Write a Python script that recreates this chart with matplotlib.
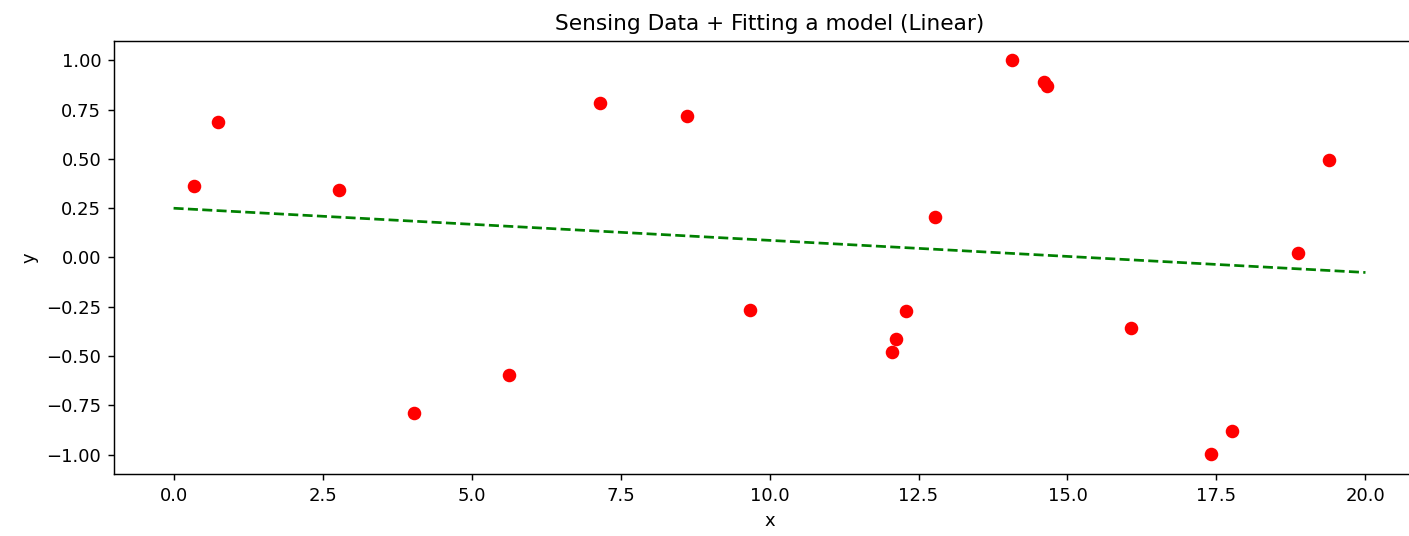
import numpy as np
import matplotlib
matplotlib.use('Agg')
import matplotlib.pyplot as plt

# sensed points
x_data = [0.35, 0.74, 2.77, 4.03, 5.63, 7.16, 8.61, 9.68, 12.05, 12.12,
          12.29, 12.77, 14.07, 14.61, 14.66, 16.07, 17.41, 17.76, 18.87, 19.38]
y_data = [0.362, 0.690, 0.342, -0.787, -0.595, 0.782, 0.720, -0.266, -0.478, -0.413,
          -0.271, 0.205, 1.000, 0.889, 0.868, -0.357, -0.997, -0.880, 0.023, 0.494]

# fitted linear model, endpoints
fit_x = [0.0, 20.0]
fit_y = [0.250, -0.076]

DPI = 130
fig = plt.figure(figsize=(1409 / DPI, 536 / DPI), dpi=DPI)
ax = fig.add_axes([0.0809, 0.1157, 0.9305, 0.8078])

ax.plot(x_data, y_data, 'o', color='red', markersize=6.5)
ax.plot(fit_x, fit_y, '--', color='green')

ax.set_xlim(-1.0, 21.0)
ax.set_ylim(-1.0985, 1.0985)
ax.set_xticks(np.arange(0, 20.1, 2.5))
ax.set_yticks(np.arange(-1.0, 1.01, 0.25))
ax.set_title('Sensing Data + Fitting a model (Linear)')
ax.set_xlabel('x')
ax.set_ylabel('y')

plt.savefig('out.png', dpi=DPI)
